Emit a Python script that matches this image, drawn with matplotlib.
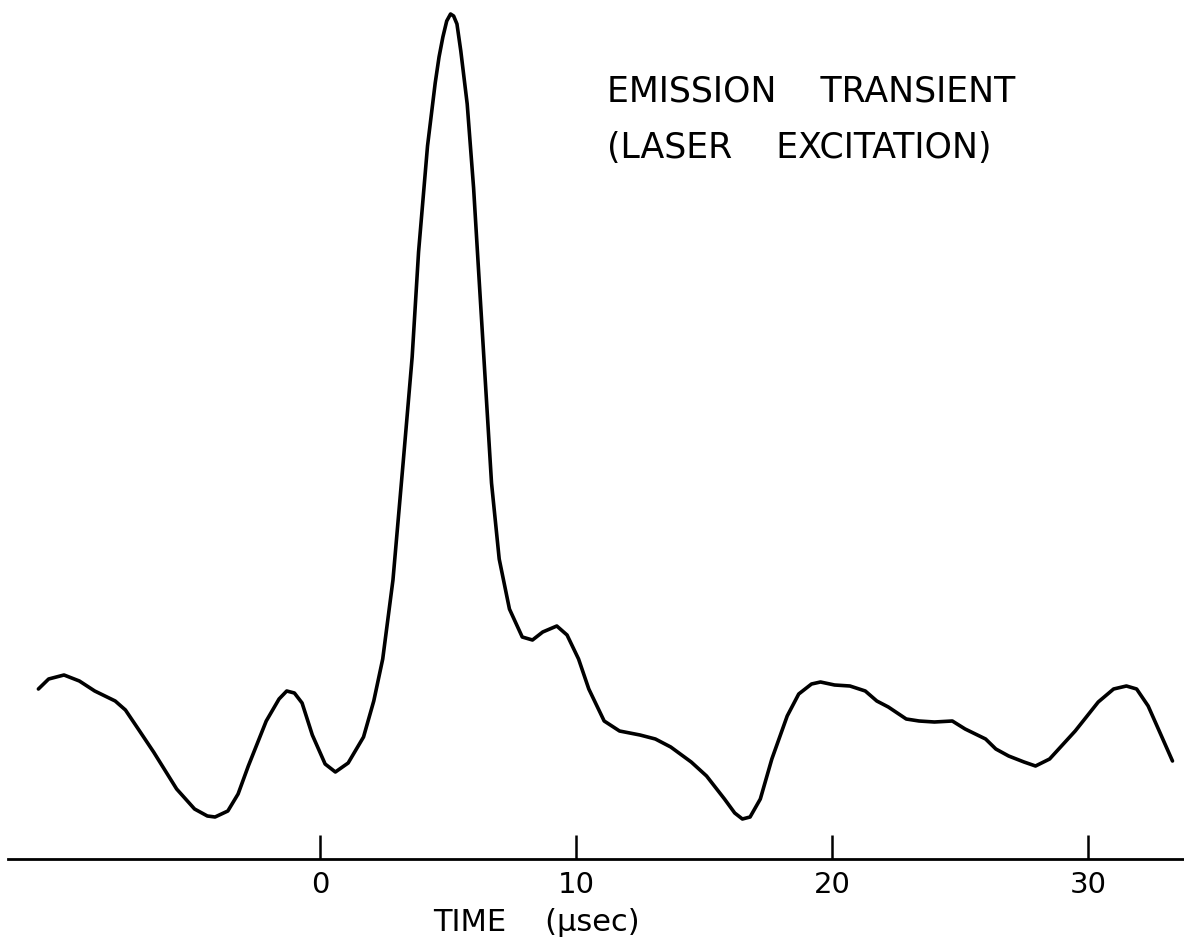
import matplotlib
matplotlib.use('Agg')
import matplotlib.pyplot as plt

# emission transient, time in microseconds, signal in arbitrary units
time_us = [-11.0, -10.6, -10.0, -9.4, -8.8, -8.0, -7.6, -7.1, -6.5, -5.6, -4.9, -4.4,
           -4.1, -3.6, -3.2, -2.8, -2.1, -1.6, -1.3, -1.0, -0.7, -0.3, 0.2, 0.6,
           1.1, 1.7, 2.1, 2.45, 2.85, 3.25, 3.6, 3.85, 4.2, 4.5, 4.65, 4.8,
           4.95, 5.1, 5.22, 5.35, 5.5, 5.75, 6.0, 6.2, 6.45, 6.7, 7.0, 7.4,
           7.9, 8.3, 8.7, 9.25, 9.65, 10.1, 10.5, 11.1, 11.7, 12.5, 13.1, 13.7,
           14.5, 15.1, 15.8, 16.2, 16.5, 16.8, 17.2, 17.65, 18.25, 18.7, 19.2, 19.55,
           20.1, 20.7, 21.3, 21.75, 22.2, 22.9, 23.4, 24.0, 24.7, 25.2, 26.0, 26.4,
           26.9, 27.5, 27.95, 28.5, 29.5, 30.4, 31.0, 31.5, 31.9, 32.35, 32.8, 33.3]
signal = [170, 180, 184, 178, 168, 158, 149, 130, 107, 70, 50, 43,
          42, 48, 65, 93, 138, 160, 168, 166, 156, 124, 95, 87,
          96, 122, 158, 200, 279, 397, 502, 607, 713, 776, 802, 822,
          838, 845, 843, 835, 808, 755, 671, 586, 481, 376, 300, 250,
          222, 219, 227, 233, 224, 200, 170, 138, 128, 124, 120, 112,
          97, 83, 60, 46, 40, 42, 60, 100, 143, 165, 175, 177,
          174, 173, 168, 158, 152, 140, 138, 137, 138, 130, 120, 110,
          103, 97, 93, 100, 128, 157, 170, 173, 170, 153, 127, 98]

xticks = [0, 10, 20, 30]
xticklabels = ['0', '10', '20', '30']

fig = plt.figure(figsize=(11.84, 9.53), dpi=100)
ax = fig.add_axes([0, 0, 1, 1])
ax.set_xlim(-12.5, 33.75)
ax.set_ylim(-93, 860)

ax.plot(time_us, signal, color='black', linewidth=2.6,
        solid_joinstyle='round', solid_capstyle='round')

# time axis drawn as a bare baseline with upward ticks
for side in ['top', 'right', 'left']:
    ax.spines[side].set_visible(False)
ax.spines['bottom'].set_position(('data', 0))
ax.spines['bottom'].set_bounds(-12.2, 33.75)
ax.spines['bottom'].set_linewidth(2.0)
ax.set_yticks([])
ax.set_xticks(xticks)
ax.set_xticklabels(xticklabels)
ax.tick_params(axis='x', direction='in', length=17, width=1.8, pad=8,
               labelsize=21)

ax.set_xlabel('TIME    (µsec)', fontsize=22)
ax.xaxis.set_label_coords(536 / 1184, 0.047)

ax.text(0.513, 0.9045, 'EMISSION    TRANSIENT', transform=ax.transAxes,
        fontsize=25, va='center', ha='left')
ax.text(0.513, 0.8447, '(LASER    EXCITATION)', transform=ax.transAxes,
        fontsize=25, va='center', ha='left')

fig.savefig('out.png', dpi=100)
